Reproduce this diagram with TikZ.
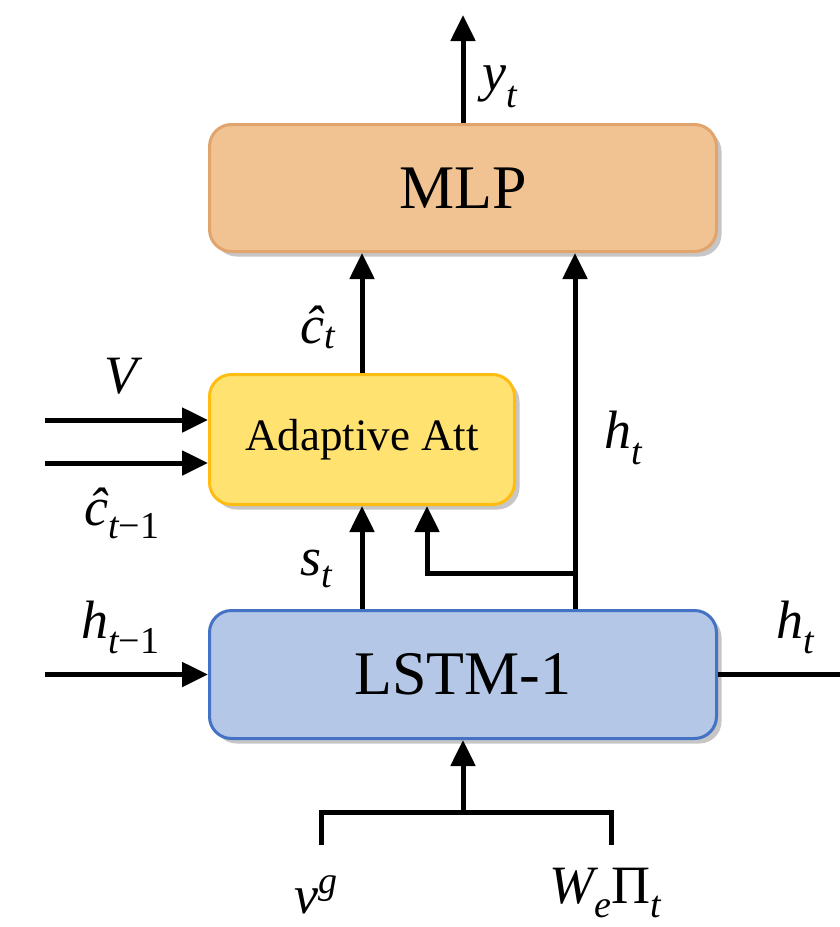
\documentclass[tikz,border=0pt]{standalone}
\usepackage{fontspec}
\setmainfont{Liberation Serif}
\usetikzlibrary{arrows.meta,shadows}
\newcommand{\mv}[1]{{\fontsize{54}{54}\selectfont\itshape #1}}
\newcommand{\mupr}[1]{{\fontsize{54}{54}\selectfont\upshape #1}}
\newcommand{\msb}[2]{\raisebox{-#1pt}{\fontsize{38}{38}\selectfont\itshape #2}}
\newcommand{\msp}[2]{\raisebox{#1pt}{\fontsize{38}{38}\selectfont\itshape #2}}
\newcommand{\mmin}{{\upshape\char"2212 1}}
\definecolor{mlpfill}{HTML}{F2C392}
\definecolor{mlpdraw}{HTML}{E0A46C}
\definecolor{attfill}{HTML}{FFE270}
\definecolor{attdraw}{HTML}{FFBD12}
\definecolor{lstmfill}{HTML}{B4C7E7}
\definecolor{lstmdraw}{HTML}{4472C4}
\tikzset{
  blockbox/.style={rectangle, rounded corners=22pt, line width=3pt, inner sep=0pt,
    drop shadow={shadow xshift=5pt, shadow yshift=-5pt, fill=black!50, opacity=0.45}},
  arr/.style={line width=5pt, -{Triangle[length=26pt,width=24pt]}},
  plainline/.style={line width=5pt},
  lbl/.style={inner sep=0pt, anchor=base west}
}
\begin{document}
\begin{tikzpicture}[x=1pt,y=-1pt]
\useasboundingbox (0,0) rectangle (840,927);
% blocks
\node[blockbox, fill=mlpfill, draw=mlpdraw, minimum width=507pt, minimum height=127pt,
  font=\fontsize{62}{62}\selectfont] (mlp) at (463,188) {MLP};
\node[blockbox, fill=attfill, draw=attdraw, minimum width=305pt, minimum height=130pt,
  font=\fontsize{45}{45}\selectfont] (att) at (362,439.5) {Adaptive Att};
\node[blockbox, fill=lstmfill, draw=lstmdraw, minimum width=507pt, minimum height=128pt,
  font=\fontsize{62}{62}\selectfont] (lstm) at (463,674.5) {LSTM-1};
% coordinates
\coordinate (yt) at (463,15);
\coordinate (hx) at (575,0);
\coordinate (ax) at (427,0);
\coordinate (br) at (575,573);
\coordinate (vin) at (45,420);
\coordinate (cin) at (45,463);
\coordinate (hin) at (45,674.5);
\coordinate (hout) at (840,674.5);
\coordinate (bl) at (321,845);
\coordinate (blc) at (321,812);
\coordinate (brc) at (611,812);
\coordinate (brr) at (611,845);
\coordinate (bm) at (463,812);
% connectors
\draw[arr] (mlp.north) -- (yt);
\draw[arr] (att.north) -- (att.north |- mlp.south);
\draw[arr] (lstm.north -| hx) -- (mlp.south -| hx);
\draw[arr] (lstm.north -| att.south) -- (att.south);
\draw[arr] (br) -| (att.south -| ax);
\draw[arr] (vin) -- (vin -| att.west);
\draw[arr] (cin) -- (cin -| att.west);
\draw[arr] (hin) -- (lstm.west);
\draw[plainline] (lstm.east) -- (hout);
\draw[plainline] (bl) -- (blc) -- (brc) -- (brr);
\draw[arr] (bm) -- (lstm.south);
% labels
\node[lbl] (lyt) at (482,90) {\mv{y}\msb{17}{t}};
\node[lbl] (lct) at (300,343) {\mv{\^{c}}\msb{5}{t}};
\node[lbl] (lv) at (104,393) {\mv{V}};
\node[lbl] (lctm) at (84,525) {\mv{\^{c}}\msb{13}{t\mmin}};
\node[lbl] (lst) at (300,575) {\mv{s}\msb{12}{t}};
\node[lbl] (lht) at (604,448) {\mv{h}\msb{16}{t}};
\node[lbl] (lhtm) at (81,638) {\mv{h}\msb{15}{t\mmin}};
\node[lbl] (lhto) at (776,638) {\mv{h}\msb{15}{t}};
\node[lbl] (lvg) at (294,913) {\mv{v}\msp{20}{g}};
\node[lbl] (lwp) at (549,903) {\mv{W}\msb{14}{e}\mupr{\char"03A0}\msb{14}{t}};
\end{tikzpicture}
\end{document}
